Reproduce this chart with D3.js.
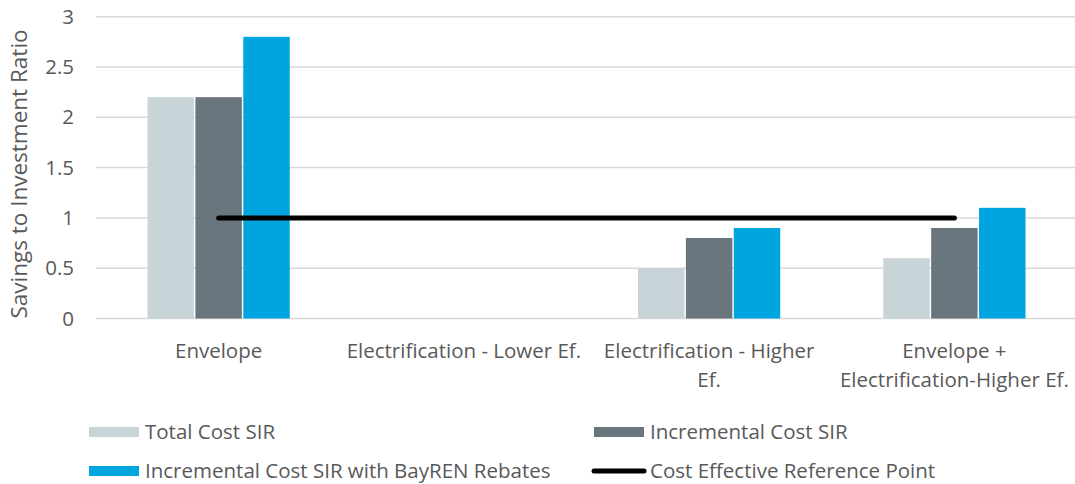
<!DOCTYPE html>
<html>
<head>
<meta charset="utf-8">
<script src="https://cdn.jsdelivr.net/npm/d3@7"></script>
<style>
  html, body { margin: 0; padding: 0; background: #fff; }
  svg text { font-family: "Open Sans", "Noto Sans", sans-serif; fill: #595959; }
</style>
</head>
<body>
<svg id="chart" width="1075" height="484"></svg>
<script>
// Categories and series
const categories = [
  ["Envelope"],
  ["Electrification - Lower Ef."],
  ["Electrification - Higher", "Ef."],
  ["Envelope +", "Electrification-Higher Ef."]
];
const seriesNames = ["Total Cost SIR", "Incremental Cost SIR", "Incremental Cost SIR with BayREN Rebates"];
const totalCostSIR = [2.2, null, 0.5, 0.6];
const incrementalCostSIR = [2.2, null, 0.8, 0.9];
const rebateCostSIR = [2.8, null, 0.9, 1.1];
const referenceName = "Cost Effective Reference Point";
const referenceValues = [1, 1, 1, 1];
const yTicks = [0, 0.5, 1, 1.5, 2, 2.5, 3];
const yTitle = "Savings to Investment Ratio";
const colors = ["#c9d4d9", "#6a767d", "#00a5df"];

const svg = d3.select("#chart");
const plot = { left: 96, right: 1077, top: 16.7, bottom: 318.5 };
const fs = 20.5;

const x0 = d3.scaleBand().domain(d3.range(categories.length)).range([plot.left, plot.right]);
const x1 = d3.scaleBand().domain(d3.range(3)).range([0, x0.bandwidth() * 0.58]).paddingInner(0.03);
const y = d3.scaleLinear().domain([0, 3]).range([plot.bottom, plot.top]);

// Gridlines
svg.append("g").selectAll("line").data(yTicks).join("line")
  .attr("x1", plot.left).attr("x2", plot.right)
  .attr("y1", d => y(d)).attr("y2", d => y(d))
  .attr("stroke", "#d9d9d9").attr("stroke-width", 1.5);

// Y tick labels
svg.append("g").selectAll("text").data(yTicks).join("text")
  .attr("x", 74).attr("y", d => y(d)).attr("dy", "0.35em")
  .attr("text-anchor", "end").attr("font-size", fs)
  .text(d => d);

// Y title
svg.append("text")
  .attr("transform", `translate(27,174) rotate(-90)`)
  .attr("text-anchor", "middle").attr("font-size", 22.5)
  .text(yTitle);

// Bars
const series = [totalCostSIR, incrementalCostSIR, rebateCostSIR];
const groupOffset = (x0.bandwidth() - x1.range()[1]) / 2;
series.forEach((vals, si) => {
  svg.append("g").selectAll("rect")
    .data(vals.map((v, i) => ({ v, i })).filter(d => d.v != null))
    .join("rect")
    .attr("x", d => x0(d.i) + groupOffset + x1(si))
    .attr("width", x1.bandwidth())
    .attr("y", d => y(d.v))
    .attr("height", d => y(0) - y(d.v))
    .attr("fill", colors[si]);
});

// Reference line
const line = d3.line()
  .x((d, i) => x0(i) + x0.bandwidth() / 2)
  .y(d => y(d));
svg.append("path")
  .datum(referenceValues)
  .attr("d", line)
  .attr("fill", "none").attr("stroke", "#000")
  .attr("stroke-width", 5).attr("stroke-linecap", "round");

// Category labels
const catG = svg.append("g");
categories.forEach((lines, i) => {
  lines.forEach((t, li) => {
    catG.append("text")
      .attr("x", x0(i) + x0.bandwidth() / 2)
      .attr("y", 351 + li * 29).attr("dy", "0.35em")
      .attr("text-anchor", "middle").attr("font-size", fs)
      .text(t);
  });
});

// Legend
const legendItems = [
  { name: seriesNames[0], type: "rect", color: colors[0], x: 89, y: 432 },
  { name: seriesNames[1], type: "rect", color: colors[1], x: 594, y: 432 },
  { name: seriesNames[2], type: "rect", color: colors[2], x: 89, y: 471 },
  { name: referenceName, type: "line", color: "#000", x: 594, y: 471 }
];
const lg = svg.append("g");
legendItems.forEach(d => {
  if (d.type === "rect") {
    lg.append("rect").attr("x", d.x).attr("y", d.y - 5).attr("width", 50).attr("height", 10).attr("fill", d.color);
  } else {
    lg.append("line").attr("x1", d.x).attr("x2", d.x + 50).attr("y1", d.y).attr("y2", d.y)
      .attr("stroke", d.color).attr("stroke-width", 5).attr("stroke-linecap", "round");
  }
  lg.append("text").attr("x", d.x + 56).attr("y", d.y).attr("dy", "0.35em")
    .attr("font-size", fs).text(d.name);
});
</script>
</body>
</html>
